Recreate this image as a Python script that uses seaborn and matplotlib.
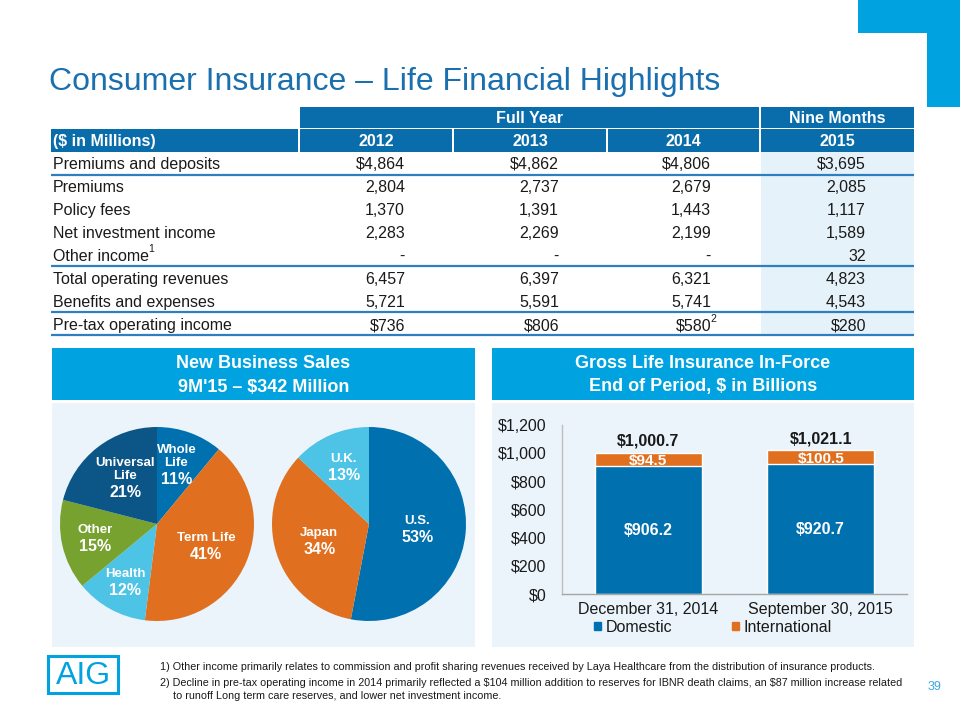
import matplotlib
matplotlib.use("Agg")
import matplotlib.pyplot as plt
import seaborn as sns
import pandas as pd
import math
from matplotlib.patches import Rectangle, Polygon, Patch
from matplotlib.ticker import FuncFormatter

# ---------------- data ----------------
title = "Consumer Insurance \u2013 Life Financial Highlights"
row_labels = ["Premiums and deposits", "Premiums", "Policy fees", "Net investment income",
              "Other income", "Total operating revenues", "Benefits and expenses",
              "Pre-tax operating income"]
years = ["2012", "2013", "2014", "2015"]
val_2012 = ["$4,864", "2,804", "1,370", "2,283", "-", "6,457", "5,721", "$736"]
val_2013 = ["$4,862", "2,737", "1,391", "2,269", "-", "6,397", "5,591", "$806"]
val_2014 = ["$4,806", "2,679", "1,443", "2,199", "-", "6,321", "5,741", "$580"]
val_2015 = ["$3,695", "2,085", "1,117", "1,589", "32", "4,823", "4,543", "$280"]

sales_labels = ["Whole\nLife", "Term Life", "Health", "Other", "Universal\nLife"]
sales_pct = [11, 41, 12, 15, 21]
region_labels = ["U.S.", "Japan", "U.K."]
region_pct = [53, 34, 13]

periods = ["December 31, 2014", "September 30, 2015"]
domestic = [906.2, 920.7]
international = [94.5, 100.5]
total = [1000.7, 1021.1]
y_ticks = [0, 200, 400, 600, 800, 1000, 1200]

footnotes = [
    "1) Other income primarily relates to commission and profit sharing revenues received by Laya Healthcare from the distribution of insurance products.",
    "2) Decline in pre-tax operating income in 2014 primarily reflected a $104 million addition to reserves for IBNR death claims, an $87 million increase related",
    "to runoff Long term care reserves, and lower net investment income.",
]

# ---------------- style ----------------
sns.set_theme(style="white")
plt.rcParams['font.family'] = ['Liberation Sans', 'DejaVu Sans']

AIG_BLUE = '#00A3E0'
HDR_BLUE = '#0A6DAB'
DOM_BLUE = '#0070AF'
ORANGE = '#E06F1F'
LIGHT_BLUE = '#4DC3E6'
GREEN = '#77A22F'
DARK_BLUE = '#0B5587'
PANEL = '#EAF4FA'
TITLE_C = '#1A6FAE'
LINE_C = '#2E7FC0'
TXT = '#1a1a1a'

def esc(s):
    return s.replace("$", r"\$")

W, H = 960, 720
fig = plt.figure(figsize=(9.6, 7.2), dpi=100)
cv = fig.add_axes([0, 0, 1, 1])
cv.set_xlim(0, W)
cv.set_ylim(H, 0)
cv.axis('off')
fig.canvas.draw()
renderer = fig.canvas.get_renderer()

def px_axes(x0, y0, x1, y1):
    return fig.add_axes([x0 / W, 1 - y1 / H, (x1 - x0) / W, (y1 - y0) / H])

def rect(x0, y0, x1, y1, **kw):
    cv.add_patch(Rectangle((x0, y0), x1 - x0, y1 - y0, **kw))

def fit_width(t, target_px, max_size):
    bb = t.get_window_extent(renderer)
    size = t.get_fontsize() * target_px / bb.width
    t.set_fontsize(min(size, max_size))
    return t

# top-right corner shape
cv.add_patch(Polygon([(858, 0), (960, 0), (960, 107), (927, 107), (927, 33), (858, 33)],
                     closed=True, color=AIG_BLUE, lw=0))

# title
t = cv.text(49, 82, title, fontsize=24, color=TITLE_C, va='center', ha='left')
fit_width(t, 670, 26)

# ---------------- table ----------------
BASE = 5.8  # half cap-height offset (px) to place baselines
rect(300, 107, 759, 128, color=HDR_BLUE, lw=0)
rect(761, 107, 914, 128, color=HDR_BLUE, lw=0)
cell_x = [(51, 298), (300, 452), (454, 606), (608, 759), (761, 914)]
for (a, b) in cell_x:
    rect(a, 129, b, 152, color=HDR_BLUE, lw=0)
hdr_kw = dict(color='white', fontsize=11.5, fontweight='bold', va='baseline')
cv.text((300 + 759) / 2, 117.5 + BASE, "Full Year", ha='center', **hdr_kw)
cv.text((761 + 914) / 2, 117.5 + BASE, "Nine Months", ha='center', **hdr_kw)
cv.text(53, 140.5 + BASE, esc("($ in Millions)"), ha='left', **hdr_kw)
for (a, b), yr in zip(cell_x[1:], years):
    cv.text((a + b) / 2, 140.5 + BASE, yr, ha='center', **hdr_kw)

# 2015 column shading
rect(761, 152, 914, 335, color='#E6F2F9', lw=0)

row_y = [163.5 + 23 * i for i in range(len(row_labels))]
for y in [175, 266, 312, 335]:
    cv.plot([51, 914], [y, y], color=LINE_C, lw=1.6, solid_capstyle='butt')

inv = cv.transData.inverted()
body_kw = dict(color=TXT, fontsize=11.5, va='baseline')
col_right = [405, 559, 711, 866]
for i, lab in enumerate(row_labels):
    t = cv.text(53, row_y[i] + BASE, lab, ha='left', **body_kw)
    if lab == "Other income":
        bb = t.get_window_extent(renderer)
        xr = inv.transform((bb.x1, 0))[0]
        cv.text(xr - 1, row_y[i] - 6, "1", fontsize=7.5, color=TXT, ha='left', va='center')
for xr_col, vals in zip(col_right, [val_2012, val_2013, val_2014, val_2015]):
    for i, v in enumerate(vals):
        cv.text(xr_col, row_y[i] + BASE, esc(v), ha='right', **body_kw)
cv.text(col_right[2] - 0.5, row_y[-1] - 6, "2", fontsize=7.5, color=TXT, ha='left', va='center')

# ---------------- section headers / panels ----------------
for (a, b), lines in [((52, 475), ["New Business Sales", esc("9M'15 \u2013 $342 Million")]),
                      ((492, 914), ["Gross Life Insurance In-Force", esc("End of Period, $ in Billions")])]:
    rect(a, 348, b, 400, color=AIG_BLUE, lw=0)
    rect(a, 403, b, 647, color=PANEL, lw=0)
    cv.text((a + b) / 2, 363, lines[0], ha='center', va='center', color='white',
            fontsize=13, fontweight='bold')
    cv.text((a + b) / 2, 387, lines[1], ha='center', va='center', color='white',
            fontsize=13, fontweight='bold')

# ---------------- pies ----------------
def draw_pie(ax, vals, labels, colors, radii):
    wedges, _ = ax.pie(vals, colors=colors, startangle=90, counterclock=False,
                       radius=1, wedgeprops=dict(linewidth=0))
    ax.set_xlim(-1, 1)
    ax.set_ylim(-1, 1)
    ax.set_aspect('equal')
    for w, lab, v, r in zip(wedges, labels, vals, radii):
        ang = math.radians((w.theta1 + w.theta2) / 2)
        x, y = r * math.cos(ang), r * math.sin(ang)
        ax.text(x, y + 0.015, lab, ha='center', va='bottom', color='white', fontsize=9.5,
                fontweight='bold', linespacing=1.05)
        ax.text(x, y - 0.015, f"{v}%", ha='center', va='top', color='white', fontsize=11.5,
                fontweight='bold')

ax1 = px_axes(60, 427, 254, 621)
draw_pie(ax1, sales_pct, sales_labels, [DOM_BLUE, ORANGE, LIGHT_BLUE, GREEN, DARK_BLUE],
         [0.59, 0.55, 0.68, 0.65, 0.53])
ax2 = px_axes(272, 427, 466, 621)
draw_pie(ax2, region_pct, region_labels, [DOM_BLUE, ORANGE, LIGHT_BLUE], [0.5, 0.54, 0.65])

# ---------------- bar chart ----------------
axb = px_axes(562, 425, 907, 594)
df = pd.DataFrame({"period": periods, "domestic": domestic, "international": international,
                   "total": total})
sns.barplot(data=df, x="period", y="total", color=ORANGE, saturation=1, width=0.62, ax=axb)
sns.barplot(data=df, x="period", y="domestic", color=DOM_BLUE, saturation=1, width=0.62, ax=axb)
axb.patch.set_alpha(0)
axb.set_xlim(-0.5, 1.5)
axb.set_ylim(0, 1200)
axb.set_yticks(y_ticks)
axb.yaxis.set_major_formatter(FuncFormatter(lambda v, p: esc(f"${v:,.0f}")))
axb.set_xlabel("")
axb.set_ylabel("")
axb.tick_params(axis='y', length=0, pad=11, labelsize=11.5, labelcolor=TXT)
axb.tick_params(axis='x', length=0, pad=5.5, labelsize=11.5, labelcolor=TXT)
for s in ['top', 'right']:
    axb.spines[s].set_visible(False)
axb.spines['left'].set_color('#BFBFBF')
axb.spines['bottom'].set_color('#A6A6A6')
axb.spines['left'].set_linewidth(1.0)
axb.spines['bottom'].set_linewidth(1.0)
for i in range(len(periods)):
    axb.text(i, domestic[i] / 2, esc(f"${domestic[i]:,.1f}"), ha='center', va='center',
             color='white', fontsize=11.5, fontweight='bold')
    axb.text(i, domestic[i] + international[i] / 2, esc(f"${international[i]:,.1f}"),
             ha='center', va='center_baseline', color='white', fontsize=11, fontweight='bold')
    axb.annotate(esc(f"${total[i]:,.1f}"), (i, total[i]), xytext=(0, 3),
                 textcoords='offset points', ha='center', va='bottom', color=TXT,
                 fontsize=11.5, fontweight='bold')

handles = [Patch(color=DOM_BLUE), Patch(color=ORANGE)]
fig.legend(handles, ["Domestic", "International"], loc='center left',
           bbox_to_anchor=(594 / W, 1 - 627 / H), ncol=2, frameon=False,
           handlelength=0.45, handleheight=0.45, handletextpad=0.3, columnspacing=3.7,
           fontsize=11.5, labelcolor=TXT, borderpad=0, borderaxespad=0)

# ---------------- footer ----------------
rect(48, 656, 118, 693, fill=False, edgecolor=AIG_BLUE, lw=2.2)
cv.text(83, 675.5, "AIG", ha='center', va='center', color=AIG_BLUE, fontsize=23)
f1 = cv.text(160, 667, esc(footnotes[0]), fontsize=8.6, color=TXT, va='center')
fit_width(f1, 702, 9)
fs = f1.get_fontsize()
cv.text(160, 683, esc(footnotes[1]), fontsize=fs, color=TXT, va='center')
cv.text(173, 696, esc(footnotes[2]), fontsize=fs, color=TXT, va='center')
cv.text(928, 687, "39", fontsize=9, color='#3AA8E0', va='center', ha='left')

fig.savefig("out.png", dpi=100)
